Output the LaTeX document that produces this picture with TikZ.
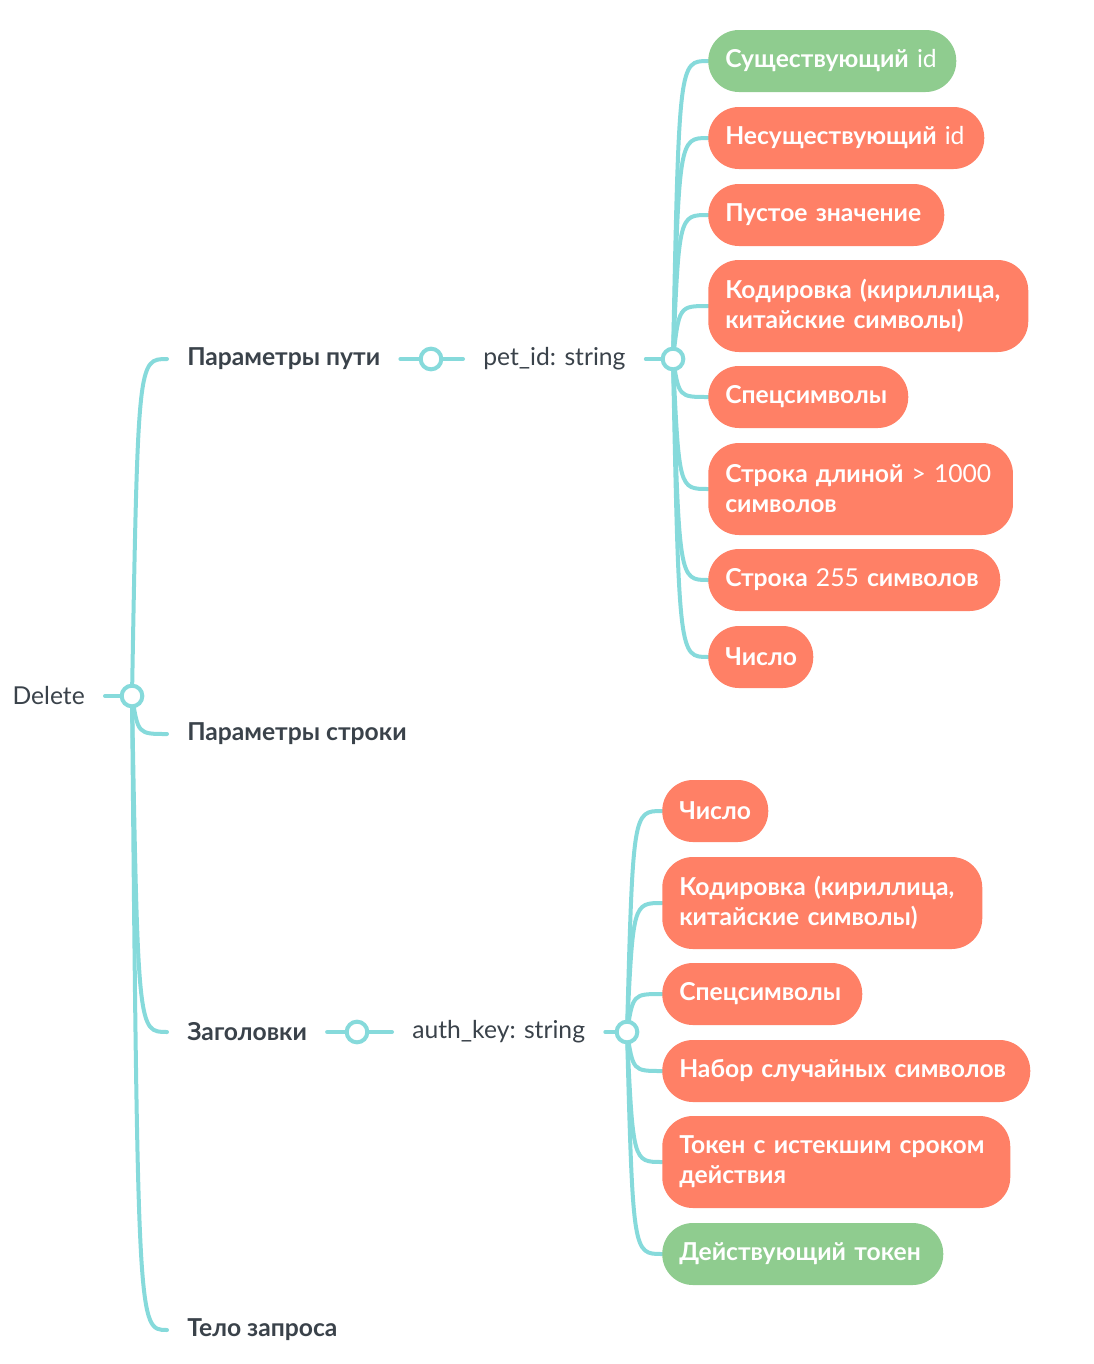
\documentclass[tikz,border=0pt]{standalone}
\usepackage{fontspec}
\setmainfont{Lato}
\usetikzlibrary{backgrounds,calc}

\definecolor{linecol}{RGB}{134,218,219}
\definecolor{okcol}{RGB}{143,204,143}
\definecolor{badcol}{RGB}{255,128,102}
\definecolor{inkcol}{RGB}{58,66,74}

\tikzset{
  branch/.style={draw=linecol, line width=3pt, line cap=round},
  hub/.style={circle, draw=linecol, line width=3pt, fill=white,
    minimum size=15.5pt, inner sep=0pt},
  topic/.style={font=\fontsize{18.5}{22}\selectfont\bfseries, text=inkcol,
    inner xsep=15pt, inner ysep=2pt},
  plain/.style={font=\fontsize{18.5}{22}\selectfont, text=inkcol,
    inner xsep=15pt, inner ysep=2pt},
  case/.style={rounded corners=23pt, text=white, anchor=west,
    font=\fontsize{18.5}{22.5}\selectfont\bfseries, align=left,
    inner xsep=12.75pt, inner ysep=2pt, minimum height=46.5pt, text width=#1},
  ok/.style={case=#1, fill=okcol},
  bad/.style={case=#1, fill=badcol},
  curve/.style={to path={(\tikztostart)
    .. controls ($(\tikztostart |- \tikztotarget)+(6,0)$)
    and ($(\tikztostart |- \tikztotarget)+(6,0)$) .. (\tikztotarget)}}
}

\begin{document}
\begin{tikzpicture}[x=0.75pt, y=-0.75pt]
  \useasboundingbox (0,0) rectangle (1094,1364);

  % root
  \node[plain, anchor=east] (del) at (105,696) {Delete};
  \node[hub] (c0) at (132,696) {};

  % first level
  \node[topic, anchor=west] (pp) at (167,359) {Параметры пути};
  \node[topic, anchor=west] (ps) at (167,734) {Параметры строки};
  \node[topic, anchor=west] (hd) at (167,1032) {Заголовки};
  \node[topic, anchor=west] (body) at (167,1330) {Тело запроса};

  % path parameter
  \node[hub] (c1) at (431,359) {};
  \node[plain, anchor=west] (pet) at (463,359) {pet\_id: string};
  \node[hub] (c2) at (673,359) {};

  \node[ok=160.5pt]  (p1) at (708,61)  {Существующий {\mdseries id}};
  \node[bad=181.5pt] (p2) at (708,138) {Несуществующий {\mdseries id}};
  \node[bad=151.5pt] (p3) at (708,215) {Пустое значение};
  \node[bad=214.5pt, minimum height=69pt] (p4) at (708,306)
    {Кодировка (кириллица,\\китайские символы)};
  \node[bad=124.5pt] (p5) at (708,397) {Спецсимволы};
  \node[bad=203pt, minimum height=69pt] (p6) at (708,489)
    {Строка длиной~{\mdseries >~1000}\\символов};
  \node[bad=193.5pt] (p7) at (708,580) {Строка {\mdseries 255} символов};
  \node[bad=53.25pt] (p8) at (708,657) {Число};

  % headers
  \node[hub] (c3) at (357,1032) {};
  \node[plain, anchor=west] (auth) at (392,1032) {auth\_key: string};
  \node[hub] (c4) at (627,1032) {};

  \node[bad=54pt]    (h1) at (662,811)  {Число};
  \node[bad=214.5pt, minimum height=69pt] (h2) at (662,903)
    {Кодировка (кириллица,\\китайские символы)};
  \node[bad=124.5pt] (h3) at (662,994)  {Спецсимволы};
  \node[bad=250.5pt] (h4) at (662,1071) {Набор случайных символов};
  \node[bad=235.5pt, minimum height=69pt] (h5) at (662,1162)
    {Токен с истекшим сроком\\действия};
  \node[ok=185.25pt] (h6) at (662,1254) {Действующий токен};

  % connectors
  \begin{scope}[on background layer]
    \draw[branch] (del.east) -- (c0.center);
    \foreach \t in {pp,ps,hd,body}
      \draw[branch] (c0.center) to[curve] (\t.west);
    \draw[branch] (pp.east) -- (c1.center) -- (pet.west);
    \draw[branch] (pet.east) -- (c2.center);
    \foreach \b in {p1,p2,p3,p4,p5,p6,p7,p8}
      \draw[branch] (c2.center) to[curve] (\b.west);
    \draw[branch] (hd.east) -- (c3.center) -- (auth.west);
    \draw[branch] (auth.east) -- (c4.center);
    \foreach \b in {h1,h2,h3,h4,h5,h6}
      \draw[branch] (c4.center) to[curve] (\b.west);
  \end{scope}
\end{tikzpicture}
\end{document}
